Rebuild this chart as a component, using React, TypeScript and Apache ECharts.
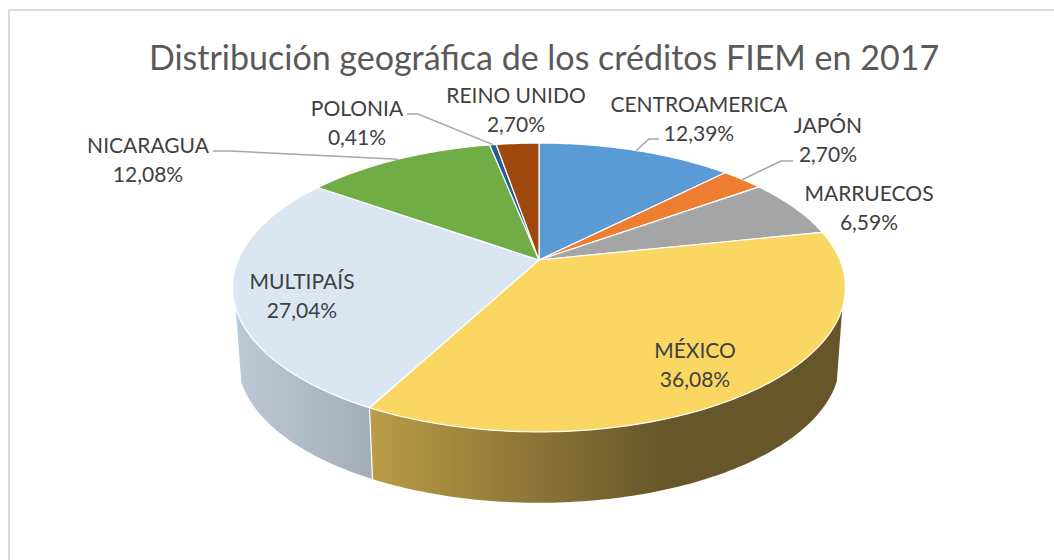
import React, { useEffect, useRef } from "react";
import * as echarts from "echarts";

// ---- data ----
const titleText = "Distribución geográfica de los créditos FIEM en 2017";
const categories = ["CENTROAMERICA", "JAPÓN", "MARRUECOS", "MÉXICO", "MULTIPAÍS", "NICARAGUA", "POLONIA", "REINO UNIDO"];
const shares = [12.39, 2.7, 6.59, 36.08, 27.04, 12.08, 0.41, 2.7];
const sliceColors = ["#5B9BD5", "#ED7D31", "#A5A5A5", "#FAD763", "#DBE6F3", "#70AD47", "#255E91", "#9E480E"];

// ---- layout ----
const CX = 539, CY = 260, A = 300.9, B = 139.2, K = 0.19; // perspective disc
const DEPTH = 74, BOTTOM_SCALE = 0.982;
const SILHOUETTE_RIGHT = 109, SILHOUETTE_LEFT = 251; // degrees, clockwise from top
const labelCenters: Record<string, [number, number]> = {
  "CENTROAMERICA": [699, 118],
  "JAPÓN": [828, 139],
  "MARRUECOS": [869, 207],
  "MÉXICO": [695, 364],
  "MULTIPAÍS": [302, 295],
  "NICARAGUA": [148, 159],
  "POLONIA": [357, 122],
  "REINO UNIDO": [516, 109],
};
const leaderElbows: Record<string, [number, number][]> = {
  "CENTROAMERICA": [[659, 139], [649, 139]],
  "JAPÓN": [[793, 161], [781, 161]],
  "NICARAGUA": [[213, 151], [230, 151]],
  "POLONIA": [[407, 114], [418, 114]],
};
const sideFills: Record<string, any> = {
  "MÉXICO": new echarts.graphic.LinearGradient(0, 0, 1, 0, [
    { offset: 0, color: "#BB9C47" },
    { offset: 0.62, color: "#66562A" },
    { offset: 1, color: "#66562A" },
  ]),
  "MULTIPAÍS": new echarts.graphic.LinearGradient(0, 0, 1, 0, [
    { offset: 0, color: "#BCC9D6" },
    { offset: 1, color: "#A3ADB9" },
  ]),
};

const rad = (d: number) => (d * Math.PI) / 180;
function project(deg: number, radius = 1): [number, number] {
  const u = Math.sin(rad(deg)) * radius;
  const v = -Math.cos(rad(deg)) * radius;
  const w = 1 - K * v;
  return [CX + (A * u) / w, CY + (B * v) / w];
}
function projectBottom(deg: number): [number, number] {
  const [x, y] = project(deg);
  return [CX + (x - CX) * BOTTOM_SCALE, CY + (y - CY) * BOTTOM_SCALE + DEPTH];
}
const total = shares.reduce((s, v) => s + v, 0);
function sliceAngles(i: number): [number, number] {
  const before = shares.slice(0, i).reduce((s, v) => s + v, 0);
  return [(before / total) * 360, ((before + shares[i]) / total) * 360];
}
function arc(from: number, to: number, fn: (d: number) => [number, number]) {
  const n = Math.max(2, Math.ceil(Math.abs(to - from)));
  const pts: [number, number][] = [];
  for (let i = 0; i <= n; i++) pts.push(fn(from + ((to - from) * i) / n));
  return pts;
}
const fmt = (v: number) => v.toFixed(2).replace(".", ",") + "%";
const FONT = "Lato, Carlito, 'Open Sans', sans-serif";

export default function App() {
  const ref = useRef<HTMLDivElement>(null);
  useEffect(() => {
    document.body.style.margin = "0";
    const chart = echarts.init(ref.current!, undefined, { renderer: "svg" });
    chart.setOption({
      animation: false,
      backgroundColor: "#FFFFFF",
      title: {
        text: titleText,
        left: 539,
        top: 34,
        textAlign: "center",
        textStyle: { fontFamily: FONT, fontSize: 34, fontWeight: "normal", color: "#595959" },
      },
      graphic: [
        { type: "line", shape: { x1: 9, y1: 10, x2: 1054, y2: 10 }, style: { stroke: "#D9D9D9", lineWidth: 2 } },
        { type: "line", shape: { x1: 9, y1: 10, x2: 9, y2: 560 }, style: { stroke: "#D9D9D9", lineWidth: 2 } },
      ],
      series: [
        {
          type: "custom",
          coordinateSystem: "none",
          silent: true,
          z: 1,
          data: shares,
          renderItem: (params: any) => {
            const i = params.dataIndex;
            const fill = sideFills[categories[i]];
            if (!fill) return { type: "group", children: [] };
            const [a0, a1] = sliceAngles(i);
            const from = Math.max(a0, SILHOUETTE_RIGHT);
            const to = Math.min(a1, SILHOUETTE_LEFT);
            const pts = [...arc(from, to, project), ...arc(to, from, projectBottom)];
            return {
              type: "polygon",
              shape: { points: pts },
              style: { fill, stroke: "#FFFFFF", lineWidth: 0 },
            };
          },
        },
        {
          // white seam between the two visible side walls
          type: "custom",
          coordinateSystem: "none",
          silent: true,
          z: 2,
          data: shares,
          renderItem: (params: any) => {
            const i = params.dataIndex;
            if (categories[i] !== "MÉXICO") return { type: "group", children: [] };
            const a = sliceAngles(i)[1];
            return {
              type: "polyline",
              shape: { points: [project(a), projectBottom(a)] },
              style: { fill: "none", stroke: "#FFFFFF", lineWidth: 1.2 },
            };
          },
        },
        {
          type: "custom",
          coordinateSystem: "none",
          silent: true,
          z: 3,
          data: shares,
          renderItem: (params: any) => {
            const i = params.dataIndex;
            const [a0, a1] = sliceAngles(i);
            return {
              type: "polygon",
              shape: { points: [project(0, 0), ...arc(a0, a1, project)] },
              style: { fill: sliceColors[i], stroke: "#FFFFFF", lineWidth: 1.2, lineJoin: "round" },
            };
          },
        },
        {
          type: "custom",
          coordinateSystem: "none",
          silent: true,
          z: 4,
          data: shares,
          renderItem: (params: any) => {
            const i = params.dataIndex;
            const name = categories[i];
            const [a0, a1] = sliceAngles(i);
            const children: any[] = [];
            const elbow = leaderElbows[name];
            if (elbow) {
              children.push({
                type: "polyline",
                shape: { points: [...elbow, project((a0 + a1) / 2)] },
                style: { fill: "none", stroke: "#A6A6A6", lineWidth: 1.5 },
              });
            }
            const [x, y] = labelCenters[name];
            children.push({
              type: "text",
              style: {
                x,
                y,
                text: `${name}\n${fmt(shares[i])}`,
                align: "center",
                verticalAlign: "middle",
                font: `21px ${FONT}`,
                lineHeight: 29,
                fill: "#404040",
              },
            });
            return { type: "group", children };
          },
        },
      ],
    });
    return () => chart.dispose();
  }, []);
  return <div ref={ref} style={{ position: "absolute", left: 0, top: 0, width: 1054, height: 560 }} />;
}
